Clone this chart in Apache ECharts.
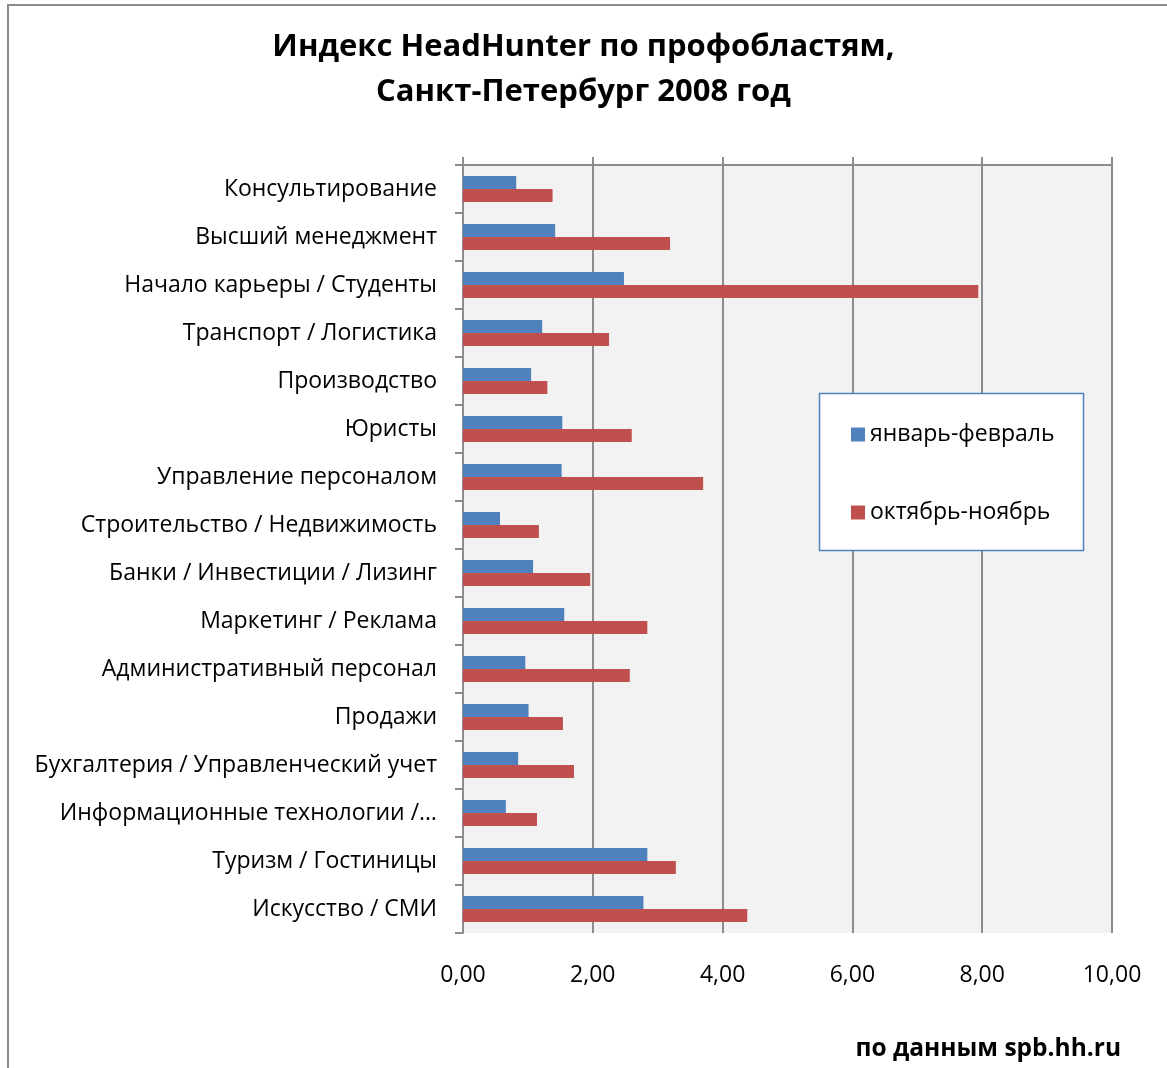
<!DOCTYPE html>
<html lang="ru">
<head>
    <meta charset="UTF-8"/>
    <title>Индекс HeadHunter по профобластям</title>
    <script src="https://cdn.jsdelivr.net/npm/echarts/dist/echarts.min.js"></script>
    <style>
        html, body { margin: 0; padding: 0; background: #fff; }
    </style>
</head>
<body>

<div id="main" style="width: 1167px; height: 1068px;"></div>

<script type="text/javascript">
    // профобласти, сверху вниз
    var categories = [
        'Консультирование',
        'Высший менеджмент',
        'Начало карьеры / Студенты',
        'Транспорт / Логистика',
        'Производство',
        'Юристы',
        'Управление персоналом',
        'Строительство / Недвижимость',
        'Банки / Инвестиции / Лизинг',
        'Маркетинг / Реклама',
        'Административный персонал',
        'Продажи',
        'Бухгалтерия / Управленческий учет',
        'Информационные технологии /…',
        'Туризм / Гостиницы',
        'Искусство / СМИ'
    ];

    var janFeb = [0.82, 1.42, 2.48, 1.22, 1.05, 1.53, 1.52, 0.57, 1.08, 1.56, 0.96, 1.01, 0.85, 0.66, 2.84, 2.78];
    var octNov = [1.38, 3.19, 7.94, 2.25, 1.30, 2.60, 3.70, 1.17, 1.96, 2.84, 2.57, 1.54, 1.71, 1.14, 3.28, 4.38];

    var seriesNames = ['январь-февраль', 'октябрь-ноябрь'];
    var axisMin = 0, axisMax = 10, axisStep = 2;

    var font = 'Open Sans';
    var gridColor = '#8c8c8c';

    var myChart = echarts.init(document.getElementById('main'));

    var option = {
        animation: false,
        textStyle: {fontFamily: font},
        title: {
            text: 'Индекс HeadHunter по профобластям,\nСанкт-Петербург 2008 год',
            left: 'center',
            top: 20,
            textStyle: {
                fontFamily: font,
                fontSize: 31,
                fontWeight: 'bold',
                color: '#000',
                lineHeight: 45
            }
        },
        graphic: [
            {
                type: 'polyline',
                shape: {points: [[8, 1068], [8, 5], [1167, 5]]},
                style: {stroke: gridColor, lineWidth: 2, fill: null}
            },
            {
                type: 'rect',
                z: 3,
                shape: {x: 819.5, y: 393.5, width: 264, height: 157},
                style: {fill: '#fff', stroke: '#4f81bd', lineWidth: 1.5}
            },
            {
                type: 'text',
                x: 1121,
                y: 1049,
                style: {
                    text: 'по данным spb.hh.ru',
                    font: 'bold 24.5px "Open Sans"',
                    fill: '#000',
                    textAlign: 'right',
                    textVerticalAlign: 'middle'
                }
            }
        ],
        legend: {
            orient: 'vertical',
            left: 851,
            top: 423,
            z: 10,
            padding: 0,
            itemWidth: 14,
            itemHeight: 14,
            itemGap: 55,
            icon: 'rect',
            data: seriesNames,
            textStyle: {fontFamily: font, fontSize: 23, color: '#000'}
        },
        grid: {
            left: 463,
            right: 55,
            top: 165,
            height: 768,
            show: true,
            backgroundColor: '#f2f2f2',
            borderWidth: 0,
            outerBoundsMode: 'none'
        },
        xAxis: [
            {
                type: 'value',
                position: 'top',
                min: axisMin,
                max: axisMax,
                interval: axisStep,
                axisLine: {show: true, lineStyle: {color: gridColor, width: 2}},
                axisTick: {show: true, length: 8, lineStyle: {color: gridColor, width: 2}},
                axisLabel: {show: false},
                splitLine: {show: true, lineStyle: {color: gridColor, width: 2}}
            },
            {
                type: 'value',
                position: 'bottom',
                min: axisMin,
                max: axisMax,
                interval: axisStep,
                axisLine: {show: false},
                axisTick: {show: false},
                splitLine: {show: false},
                axisLabel: {
                    margin: 31,
                    fontFamily: font,
                    fontSize: 23,
                    color: '#000',
                    formatter: function (v) {
                        return v.toFixed(2).replace('.', ',');
                    }
                }
            }
        ],
        yAxis: {
            type: 'category',
            inverse: true,
            data: categories,
            axisLine: {show: true, lineStyle: {color: gridColor, width: 2}},
            axisTick: {show: true, length: 8, lineStyle: {color: gridColor, width: 2}},
            axisLabel: {margin: 26, fontFamily: font, fontSize: 23, color: '#000'},
            splitLine: {show: false}
        },
        series: [
            {
                name: seriesNames[0],
                type: 'bar',
                xAxisIndex: 0,
                barWidth: 13,
                barGap: '0%',
                itemStyle: {color: '#4f81bd'},
                data: janFeb
            },
            {
                name: seriesNames[1],
                type: 'bar',
                xAxisIndex: 0,
                barWidth: 13,
                barGap: '0%',
                itemStyle: {color: '#c0504d'},
                data: octNov
            }
        ]
    };

    myChart.setOption(option);
</script>
</body>
</html>
